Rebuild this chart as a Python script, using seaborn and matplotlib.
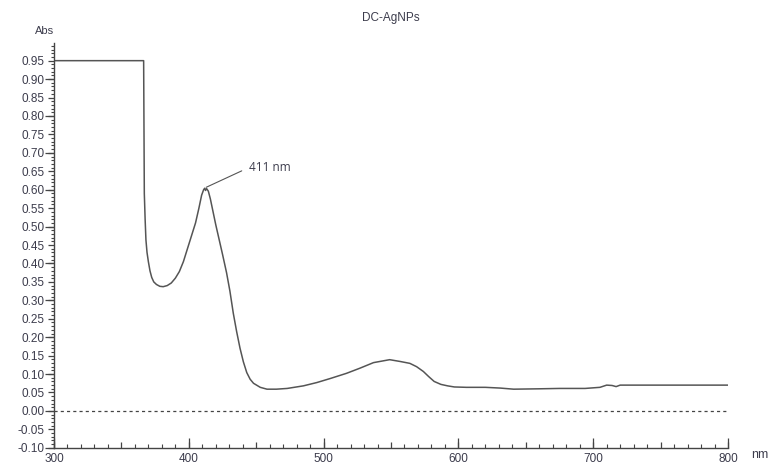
import numpy as np
import pandas as pd
import seaborn as sns
import matplotlib.pyplot as plt
from matplotlib.ticker import MultipleLocator, FixedLocator, FuncFormatter, NullFormatter

# Spectrum (wavelength in nm, absorbance)
wavelength = [300, 320, 340, 360, 366.5, 367.0, 367.6, 368.2, 369, 370, 371.2, 372.5,
              374, 376, 378.5, 381, 384, 387, 390, 393, 396, 399, 402, 405, 407.5,
              409.5, 411, 411.8, 412.4, 413.2, 414.5, 416, 418, 420, 422.5, 425, 428,
              430.5, 433, 435.5, 438, 440.5, 443, 445.5, 448, 453, 458, 465, 473, 485,
              495, 505, 517, 527, 537, 549, 557, 564, 569, 574, 578, 582, 587, 592,
              597, 606, 620, 631, 641, 660, 675, 694, 705, 710, 714, 717, 720, 740,
              760, 780, 800]
absorbance = [0.95, 0.95, 0.95, 0.95, 0.95, 0.59, 0.52, 0.464, 0.43, 0.405, 0.38, 0.362,
              0.350, 0.343, 0.338, 0.337, 0.340, 0.347, 0.360, 0.378, 0.405, 0.44, 0.475,
              0.51, 0.55, 0.585, 0.600, 0.604, 0.598, 0.603, 0.596, 0.575, 0.54, 0.505,
              0.465, 0.425, 0.375, 0.325, 0.265, 0.215, 0.17, 0.133, 0.104, 0.086,
              0.075, 0.064, 0.059, 0.059, 0.061, 0.068, 0.077, 0.088, 0.102, 0.116,
              0.131, 0.139, 0.134, 0.129, 0.12, 0.107, 0.093, 0.080, 0.072, 0.068,
              0.065, 0.064, 0.064, 0.062, 0.059, 0.060, 0.061, 0.061, 0.064, 0.070,
              0.069, 0.066, 0.070, 0.070, 0.070, 0.070, 0.070]
x_ticks = [300, 400, 500, 600, 700, 800]
y_long_ticks = [-0.1, 0.0, 0.1, 0.2, 0.3, 0.4, 0.5, 0.6, 0.7, 0.8, 0.9]
peak_label = '411 nm'
peak_nm = 412
peak_abs = 0.605

df = pd.DataFrame({'nm': wavelength, 'abs': absorbance})

sns.set_style('ticks')
plt.rcParams['font.family'] = ['Liberation Sans', 'DejaVu Sans']
text_col = '#3c3c4c'
axis_col = '#444444'

fig = plt.figure(figsize=(7.74, 4.70), dpi=100)
ax = fig.add_axes([54 / 774, 1 - 447.8 / 470, (728 - 54) / 774, (447.8 - 42.6) / 470])

sns.lineplot(data=df, x='nm', y='abs', ax=ax, color='#555555', linewidth=1.1,
             estimator=None, sort=False)
ax.axhline(0, color=axis_col, linewidth=0.9, linestyle=(0, (2.5, 2.5)))

ax.set_xlim(300, 800)
ax.set_ylim(-0.10, 0.999)
ax.set_xlabel('')
ax.set_ylabel('')
sns.despine(ax=ax)
for s in ['left', 'bottom']:
    ax.spines[s].set_color(axis_col)
    ax.spines[s].set_linewidth(1.0)

# labelled ticks every 0.05 abs, medium every 50 nm, minor ticks
ax.xaxis.set_major_locator(MultipleLocator(50))
ax.xaxis.set_minor_locator(MultipleLocator(10))
ax.xaxis.set_major_formatter(NullFormatter())
ax.yaxis.set_major_locator(MultipleLocator(0.05))
ax.yaxis.set_minor_locator(MultipleLocator(0.01))
ax.yaxis.set_major_formatter(FuncFormatter(lambda v, p: f'{v:.2f}'))

ax.tick_params(axis='x', which='major', direction='in', length=4.5, width=0.9, color=axis_col)
ax.tick_params(axis='x', which='minor', direction='in', length=3, width=0.8, color=axis_col)
ax.tick_params(axis='y', which='major', direction='out', length=4, width=0.9,
               color=axis_col, pad=2.5, labelsize=8.5, labelcolor=text_col)
ax.tick_params(axis='y', which='minor', direction='out', length=2.5, width=0.8, color=axis_col)

# longer ticks every 100 nm (with labels) and every 0.1 abs
secx = ax.secondary_xaxis('bottom')
secx.spines['bottom'].set_visible(False)
secx.xaxis.set_major_locator(FixedLocator(x_ticks))
secx.xaxis.set_minor_locator(plt.NullLocator())
secx.xaxis.set_major_formatter(FuncFormatter(lambda v, p: f'{v:.0f}'))
secx.tick_params(axis='x', direction='in', length=7, width=0.9, color=axis_col,
                 pad=4, labelsize=8.5, labelcolor=text_col)

secy = ax.secondary_yaxis('left')
secy.spines['left'].set_visible(False)
secy.yaxis.set_major_locator(FixedLocator(y_long_ticks))
secy.yaxis.set_minor_locator(plt.NullLocator())
secy.yaxis.set_major_formatter(NullFormatter())
secy.tick_params(axis='y', direction='out', length=6.5, width=0.9, color=axis_col)

ax.annotate(peak_label, xy=(peak_nm, peak_abs), xytext=(444.5, 0.66),
            fontsize=8.5, color=text_col, family=['Open Sans', 'DejaVu Sans'],
            ha='left', va='center',
            arrowprops=dict(arrowstyle='-', color='#555555', lw=0.8,
                            shrinkA=3, shrinkB=1, relpos=(0, 0.5)))

fig.text(391 / 774, 1 - 18 / 470, 'DC-AgNPs', ha='center', va='center',
         fontsize=8.5, color=text_col)
fig.text(45 / 774, 1 - 31 / 470, 'Abs', ha='center', va='center',
         fontsize=8, color=text_col)
fig.text(760 / 774, 1 - 455 / 470, 'nm', ha='center', va='center',
         fontsize=9, color=text_col)

fig.savefig('out.png', dpi=100, facecolor='white')
